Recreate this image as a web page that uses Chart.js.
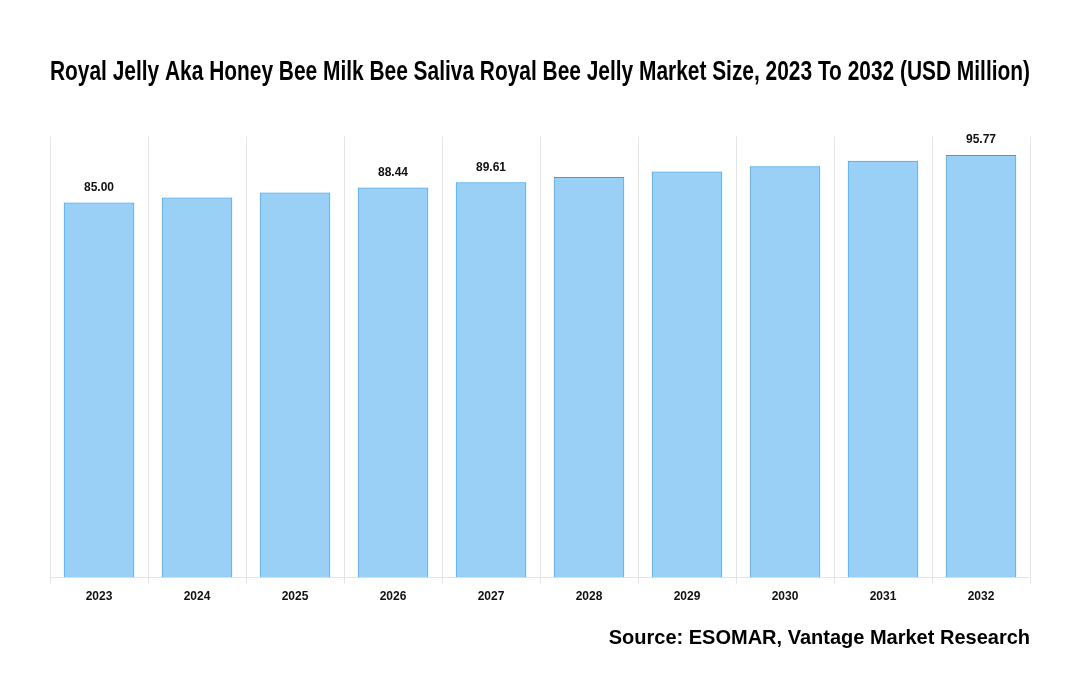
<!DOCTYPE html>
<html>
<head>
<meta charset="utf-8">
<script src="https://cdn.jsdelivr.net/npm/chart.js@4.4.1/dist/chart.umd.min.js"></script>
<style>
    html, body { margin: 0; padding: 0; background: #fff; }
    #wrap { width: 1080px; height: 700px; }
</style>
</head>
<body>
<div id="wrap"><canvas id="marketChart"></canvas></div>
<script>
const years = ['2023', '2024', '2025', '2026', '2027', '2028', '2029', '2030', '2031', '2032'];
const marketSize = [85.00, 86.14, 87.28, 88.44, 89.61, 90.81, 92.02, 93.25, 94.50, 95.77];
// only some bars carry a value label in the original
const labelledYears = ['2023', '2026', '2027', '2032'];

// draws the value text above the chosen bars
const valueLabels = {
    id: 'valueLabels',
    afterDatasetsDraw(chart) {
        const ctx = chart.ctx;
        const meta = chart.getDatasetMeta(0);
        ctx.save();
        ctx.font = 'bold 12px "Liberation Sans", Arial, sans-serif';
        ctx.fillStyle = '#111';
        ctx.textAlign = 'center';
        ctx.textBaseline = 'bottom';
        meta.data.forEach((bar, i) => {
            if (!labelledYears.includes(years[i])) return;
            ctx.fillText(marketSize[i].toFixed(2), bar.x, bar.y - 9);
        });
        ctx.restore();
    }
};

const ctx = document.getElementById('marketChart').getContext('2d');

new Chart(ctx, {
    type: 'bar',
    data: {
        labels: years,
        datasets: [{
            label: 'Market Size',
            data: marketSize,
            backgroundColor: 'rgba(54, 162, 235, 0.5)',
            borderColor: 'rgba(54, 162, 235, 1)',
            borderWidth: 1
        }]
    },
    options: {
        responsive: true,
        maintainAspectRatio: false,
        animation: false,
        layout: {
            padding: { left: 50, right: 50, top: 40, bottom: 50 }
        },
        scales: {
            x: {
                grid: { color: '#e4e4e4', tickLength: 6 },
                border: { color: '#e4e4e4' },
                ticks: {
                    color: '#111',
                    font: { family: '"Liberation Sans", Arial, sans-serif', size: 12, weight: 'bold' },
                    padding: 6
                }
            },
            y: {
                display: false,
                min: 0,
                max: 100
            }
        },
        plugins: {
            legend: { display: false },
            tooltip: { enabled: false },
            title: {
                display: true,
                text: 'Royal Jelly Aka Honey Bee Milk Bee Saliva Royal Bee Jelly Market Size, 2023 To 2032 (USD Million)',
                color: '#000',
                font: { family: '"Liberation Sans Narrow", "Arial Narrow", sans-serif', size: 27, weight: 'bold' },
                padding: { top: 16, bottom: 48 }
            },
            subtitle: {
                display: true,
                position: 'bottom',
                align: 'end',
                text: 'Source: ESOMAR, Vantage Market Research',
                color: '#000',
                font: { family: '"Liberation Sans", Arial, sans-serif', size: 20, weight: 'bold' },
                padding: { top: 16, bottom: 0 }
            }
        }
    },
    plugins: [valueLabels]
});
</script>
</body>
</html>
